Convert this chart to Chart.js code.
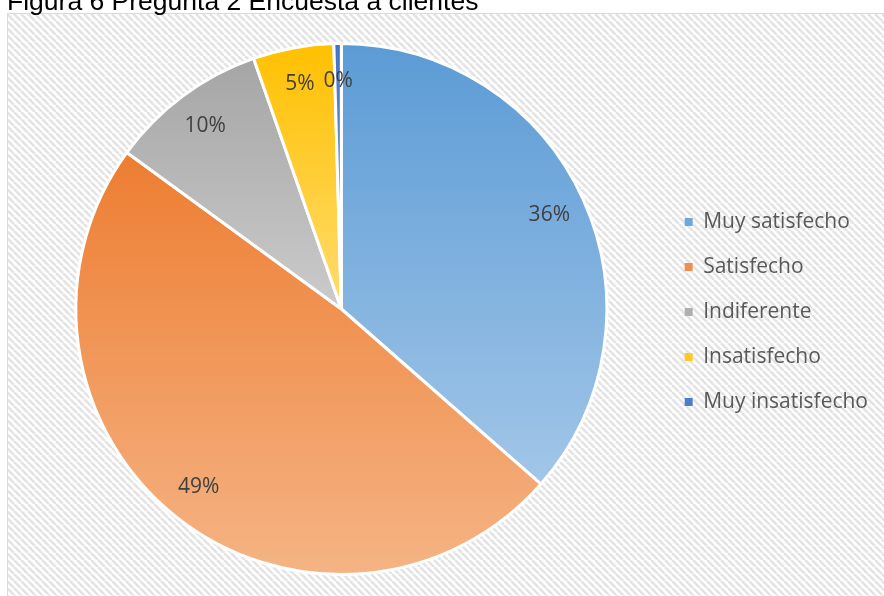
<!DOCTYPE html>
<html>
<head>
<meta charset="utf-8">
<script src="https://cdn.jsdelivr.net/npm/chart.js@4.4.1/dist/chart.umd.min.js"></script>
<style>
  html, body { margin: 0; padding: 0; background: #fff; }
  #wrap { width: 884px; height: 596px; position: relative; }
</style>
</head>
<body>
<div id="wrap"><canvas id="grafico"></canvas></div>
<script>
const titulo = 'Figura 6 Pregunta 2 Encuesta a clientes';
const categorias = ['Muy satisfecho', 'Satisfecho', 'Indiferente', 'Insatisfecho', 'Muy insatisfecho'];
const porcentajes = [36.4, 48.5, 9.6, 4.9, 0.45];

// colores arriba / abajo del degradado de cada porción
const coloresTop = ['#5B9BD5', '#ED7D31', '#A5A5A5', '#FFC000', '#4472C4'];
const coloresBottom = ['#A2C6E8', '#F5B485', '#CBCBCB', '#FFDC6E', '#8FAADC'];
const coloresLeyenda = ['#6FA7DB', '#EF8E4F', '#AFAFAF', '#FFC826', '#4E7BCB'];

function gradientePorcion(context) {
    const chart = context.chart;
    const i = context.dataIndex;
    const area = chart.chartArea;
    if (!area) return coloresTop[i];
    const cx = (area.left + area.right) / 2;
    const cy = (area.top + area.bottom) / 2;
    const r = Math.min(area.right - area.left, area.bottom - area.top) / 2;
    const total = porcentajes.reduce((a, b) => a + b, 0);
    let acum = 0;
    for (let k = 0; k < i; k++) acum += porcentajes[k];
    const a0 = -Math.PI / 2 + acum / total * 2 * Math.PI;
    const a1 = a0 + porcentajes[i] / total * 2 * Math.PI;
    let ys = [cy, cy + r * Math.sin(a0), cy + r * Math.sin(a1)];
    const contiene = (a) => {
        for (let n = -1; n <= 2; n++) {
            const t = a + n * 2 * Math.PI;
            if (t >= a0 && t <= a1) return true;
        }
        return false;
    };
    if (contiene(Math.PI / 2)) ys.push(cy + r);
    if (contiene(-Math.PI / 2)) ys.push(cy - r);
    const y0 = Math.min(...ys), y1 = Math.max(...ys);
    const g = chart.ctx.createLinearGradient(0, y0, 0, y1 + 1);
    g.addColorStop(0, coloresTop[i]);
    g.addColorStop(1, coloresBottom[i]);
    return g;
}

// fondo rayado + marco + título
function patronRayado(ctx) {
    const c = document.createElement('canvas');
    c.width = 7; c.height = 7;
    const p = c.getContext('2d');
    p.fillStyle = '#ffffff';
    p.fillRect(0, 0, 7, 7);
    p.strokeStyle = '#e3e3e3';
    p.lineWidth = 2.6;
    for (let o = -14; o <= 14; o += 7) {
        p.beginPath();
        p.moveTo(o, 0);
        p.lineTo(o + 7, 7);
        p.stroke();
    }
    return ctx.createPattern(c, 'repeat');
}

const fondoPlugin = {
    id: 'fondo',
    beforeDraw(chart) {
        const ctx = chart.ctx;
        ctx.save();
        ctx.fillStyle = '#ffffff';
        ctx.fillRect(0, 0, chart.width, chart.height);
        ctx.fillStyle = patronRayado(ctx);
        ctx.fillRect(8, 13, chart.width - 8, chart.height - 13);
        ctx.strokeStyle = '#d9d9d9';
        ctx.lineWidth = 1;
        ctx.strokeRect(7.5, 13.5, chart.width, chart.height);
        ctx.fillStyle = '#000000';
        ctx.font = '26.5px "Liberation Sans", Arial, sans-serif';
        ctx.textBaseline = 'alphabetic';
        ctx.textAlign = 'left';
        ctx.fillText(titulo, 7, 10);
        ctx.restore();
    }
};

const etiquetasPlugin = {
    id: 'etiquetas',
    afterDatasetsDraw(chart) {
        const ctx = chart.ctx;
        const meta = chart.getDatasetMeta(0);
        const total = porcentajes.reduce((a, b) => a + b, 0);
        ctx.save();
        ctx.font = '21px "Open Sans", sans-serif';
        ctx.fillStyle = '#404040';
        ctx.textAlign = 'center';
        ctx.textBaseline = 'middle';
        meta.data.forEach((arc, i) => {
            const mid = (arc.startAngle + arc.endAngle) / 2;
            const d = arc.outerRadius * 0.86;
            const x = arc.x + Math.cos(mid) * d;
            const y = arc.y + Math.sin(mid) * d;
            ctx.fillText(Math.round(porcentajes[i] / total * 100) + '%', x, y);
        });
        ctx.restore();
    }
};

new Chart(document.getElementById('grafico'), {
    type: 'pie',
    data: {
        labels: categorias,
        datasets: [{
            data: porcentajes,
            backgroundColor: gradientePorcion,
            borderColor: '#ffffff',
            borderWidth: 3
        }]
    },
    options: {
        responsive: true,
        maintainAspectRatio: false,
        animation: false,
        layout: { padding: { left: 22, top: 42, bottom: 20, right: 6 } },
        plugins: {
            title: { display: false },
            tooltip: { enabled: false },
            legend: {
                position: 'right',
                // título vacío solo para bajar un poco los elementos
                title: { display: true, text: ' ', font: { size: 5, lineHeight: 1.2 }, padding: 0 },
                labels: {
                    font: { family: '"Open Sans", sans-serif', size: 21 },
                    color: '#595959',
                    boxWidth: 8,
                    boxHeight: 8,
                    padding: 24,
                    generateLabels: (chart) => categorias.map((c, i) => ({
                        text: c,
                        fillStyle: coloresLeyenda[i],
                        strokeStyle: coloresLeyenda[i],
                        lineWidth: 0,
                        fontColor: '#595959',
                        hidden: false,
                        index: i
                    }))
                }
            }
        }
    },
    plugins: [fondoPlugin, etiquetasPlugin]
});
</script>
</body>
</html>
